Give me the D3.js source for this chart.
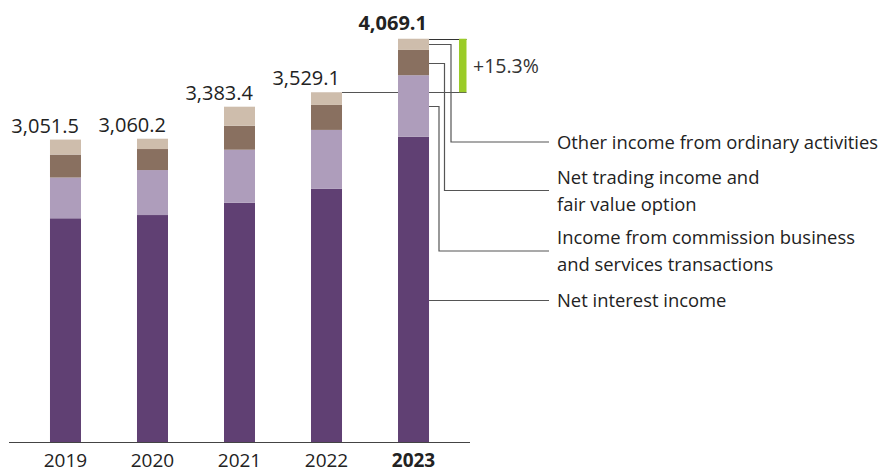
<!DOCTYPE html>
<html>
<head>
<meta charset="utf-8">
<script src="https://cdn.jsdelivr.net/npm/d3@7"></script>
<style>
  html, body { margin: 0; padding: 0; background: #fff; }
  svg { display: block; font-family: "Open Sans", "Noto Sans", sans-serif; }
</style>
</head>
<body>
<svg id="chart" width="888" height="472"></svg>
<script>
// ---- data ----
const years = ["2019", "2020", "2021", "2022", "2023"];
const netInterestIncome = [2257.5, 2290.2, 2414.4, 2554.1, 3079.1];
const commissionIncome = [411, 454, 535, 595, 622];
const tradingIncome = [232, 212, 242, 252, 255];
const otherIncome = [151, 104, 192, 128, 113];
const totals = [3051.5, 3060.2, 3383.4, 3529.1, 4069.1];
const changeLabel = "+15.3%";
const seriesKeys = ["nii", "commission", "trading", "other"];
const seriesColors = ["#604073", "#ae9dbb", "#897060", "#cebdac"];
const legendLabels = [
  ["Net interest income"],
  ["Income from commission business", "and services transactions"],
  ["Net trading income and", "fair value option"],
  ["Other income from ordinary activities"]
];

// ---- layout ----
const svg = d3.select("#chart");
const axisY = 442;
const x = d3.scaleBand().domain(years).range([9, 470])
  .paddingInner(0.6437).paddingOuter(0.471);
const y = d3.scaleLinear().domain([0, 4460]).range([axisY, 0]);

const rows = years.map((yr, i) => ({
  year: yr, nii: netInterestIncome[i], commission: commissionIncome[i],
  trading: tradingIncome[i], other: otherIncome[i], total: totals[i]
}));
const stacked = d3.stack().keys(seriesKeys)(rows);
const color = d3.scaleOrdinal().domain(seriesKeys).range(seriesColors);
const fmt = d3.format(",.1f");
const lineColor = "#555";

// comparison line from 2022 top to growth bar (behind bars)
const prev = rows[3], last = rows[4];
const gx1 = 466.5, gw = 7.5;
svg.append("line")
  .attr("x1", x(prev.year) + x.bandwidth()).attr("x2", gx1)
  .attr("y1", Math.round(y(prev.total)) + 0.5).attr("y2", Math.round(y(prev.total)) + 0.5)
  .attr("stroke", lineColor).attr("stroke-width", 1.2);
svg.append("line")
  .attr("x1", x(last.year) + x.bandwidth()).attr("x2", gx1)
  .attr("y1", Math.round(y(last.total)) + 0.5).attr("y2", Math.round(y(last.total)) + 0.5)
  .attr("stroke", "#333").attr("stroke-width", 1);

// bars
svg.append("g").selectAll("g").data(stacked).join("g")
  .attr("fill", d => color(d.key))
  .selectAll("rect").data(d => d).join("rect")
  .attr("x", d => x(d.data.year))
  .attr("width", x.bandwidth())
  .attr("y", d => y(d[1]))
  .attr("height", d => y(d[0]) - y(d[1]));

// growth bar
svg.append("rect")
  .attr("x", gx1 - gw).attr("width", gw)
  .attr("y", y(last.total)).attr("height", y(prev.total) - y(last.total))
  .attr("fill", "#9bcc28");
svg.append("text")
  .attr("x", 473).attr("y", (y(last.total) + y(prev.total)) / 2 + 7.5)
  .attr("font-size", 19.5).attr("fill", "#333").text(changeLabel);

// axis baseline
svg.append("line").attr("x1", 9).attr("x2", 470)
  .attr("y1", axisY + 0.5).attr("y2", axisY + 0.5)
  .attr("stroke", "#444").attr("stroke-width", 1.2);

// year labels
svg.append("g").selectAll("text").data(rows).join("text")
  .attr("x", d => x(d.year) + x.bandwidth() / 2)
  .attr("y", 466.5)
  .attr("text-anchor", "middle")
  .attr("font-size", 19)
  .attr("font-weight", (d, i) => i === rows.length - 1 ? 700 : 400)
  .attr("fill", "#222")
  .text(d => d.year);

// total labels
svg.append("g").selectAll("text").data(rows).join("text")
  .attr("x", d => x(d.year) + x.bandwidth() - 2)
  .attr("y", (d, i) => y(d.total) - (i === rows.length - 1 ? 9 : 7))
  .attr("text-anchor", "end")
  .attr("font-size", 20)
  .attr("font-weight", (d, i) => i === rows.length - 1 ? 700 : 400)
  .attr("fill", "#222")
  .text(d => fmt(d.total));

// legend connectors
const legendY = [300.5, 251, 190.5, 142];
const elbowX = [null, 439, 444.5, 451];
const legendLineEnd = 549;
const legendTextX = 557;
const barRight = x(last.year) + x.bandwidth();
const lastSegs = stacked.map(s => s[s.length - 1]);
const lineH = 27;

seriesKeys.forEach((k, i) => {
  const ly = legendY[i];
  let pts;
  if (elbowX[i] === null) {
    pts = [[barRight, ly], [legendLineEnd, ly]];
  } else {
    const seg = lastSegs[i];
    const sy = Math.round((y(seg[0]) + y(seg[1])) / 2) + 0.5;
    pts = [[barRight, sy], [elbowX[i], sy], [elbowX[i], ly], [legendLineEnd, ly]];
  }
  svg.append("path").attr("d", d3.line()(pts))
    .attr("fill", "none").attr("stroke", lineColor).attr("stroke-width", 1.2);
  const lines = legendLabels[i];
  const t = svg.append("text").attr("font-size", 18.4).attr("fill", "#222");
  lines.forEach((ln, j) => {
    t.append("tspan").attr("x", legendTextX)
      .attr("y", ly - (lines.length - 1) * lineH / 2 + j * lineH + 6.5)
      .text(ln);
  });
});
</script>
</body>
</html>
